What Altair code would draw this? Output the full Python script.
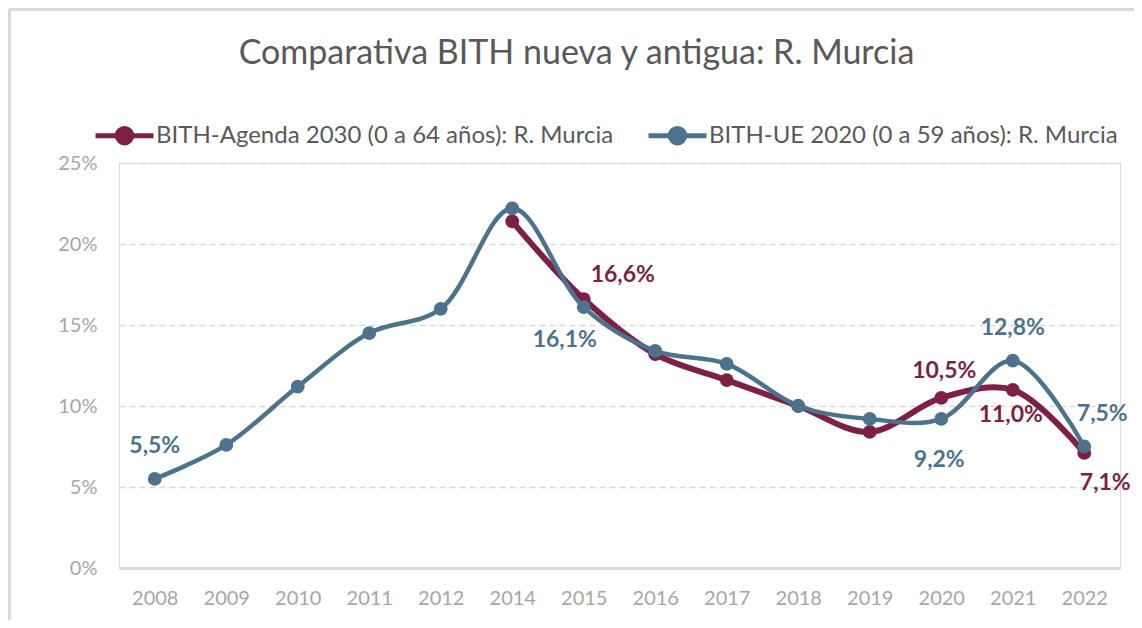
import altair as alt
import pandas as pd

# ---- data ----
years = ["2008", "2009", "2010", "2011", "2012", "2014", "2015",
         "2016", "2017", "2018", "2019", "2020", "2021", "2022"]
series_agenda = "BITH-Agenda 2030 (0 a 64 años): R. Murcia"
series_ue = "BITH-UE 2020 (0 a 59 años): R. Murcia"
agenda_vals = [None, None, None, None, None, 21.4, 16.6, 13.2, 11.6, 10.0, 8.4, 10.5, 11.0, 7.1]
ue_vals = [5.5, 7.6, 11.2, 14.5, 16.0, 22.2, 16.1, 13.4, 12.6, 10.0, 9.2, 9.2, 12.8, 7.5]

# which points carry a data label, and where (relative placement)
agenda_labels = {"2015": "above_right", "2020": "above", "2021": "below", "2022": "below_right"}
ue_labels = {"2008": "above", "2015": "below_left", "2020": "below", "2021": "above", "2022": "above_right"}

rows = []
for y, a, u in zip(years, agenda_vals, ue_vals):
    if a is not None:
        rows.append({"year": y, "series": series_agenda, "value": a / 100,
                     "pos": agenda_labels.get(y, "")})
    rows.append({"year": y, "series": series_ue, "value": u / 100,
                 "pos": ue_labels.get(y, "")})
df = pd.DataFrame(rows)

MAROON = "#7E1F46"
BLUE = "#4C738E"
FONT = "Lato"

color_scale = alt.Scale(domain=[series_agenda, series_ue], range=[MAROON, BLUE])

# legend symbol: line with a circle in the middle
sym_path = ("M-1,0L1,0M0.25,0A0.25,0.25,0,1,1,-0.25,0"
            "A0.25,0.25,0,1,1,0.25,0Z")

x_enc = alt.X("year:O", sort=years,
              scale=alt.Scale(type="point", padding=0.5),
              axis=alt.Axis(title=None, labelAngle=0, ticks=False, tickSize=0,
                            domain=True, domainColor="#D9D9D9", domainWidth=3,
                            labelColor="#A6A6A6", labelFont=FONT, labelFontSize=20,
                            labelPadding=20, grid=False))
y_enc = alt.Y("value:Q", scale=alt.Scale(domain=[0, 0.25], nice=False),
              axis=alt.Axis(title=None, format=".0%", values=[0, 0.05, 0.10, 0.15, 0.20, 0.25],
                            ticks=False, tickSize=0, domain=False,
                            grid=True, gridColor="#D9D9D9", gridDash=[6, 4], gridWidth=1.5,
                            labelColor="#A6A6A6", labelFont=FONT, labelFontSize=20,
                            labelPadding=22))

base = alt.Chart(df).encode(x=x_enc, y=y_enc)

# chart frame (top and left edges of the outer border)
frame_top = alt.Chart(df).mark_rule(stroke="#D9D9D9", strokeWidth=2.5).encode(
    x=alt.value(-110), x2=alt.value(1015), y=alt.value(-154))
frame_left = alt.Chart(df).mark_rule(stroke="#D9D9D9", strokeWidth=2.5).encode(
    x=alt.value(-110), y=alt.value(-154), y2=alt.value(457))

def series_layers(name, width):
    sub = base.transform_filter(alt.datum.series == name)
    line = sub.mark_line(interpolate="catmull-rom", strokeWidth=width).encode(
        color=alt.Color("series:N", scale=color_scale,
                        legend=alt.Legend(title=None, orient="none", direction="horizontal",
                                          legendX=-26, legendY=-59,
                                          symbolType=sym_path, symbolSize=3364,
                                          symbolStrokeWidth=5, symbolOpacity=1,
                                          labelFont=FONT, labelFontSize=24,
                                          labelColor="#595959", labelOffset=0,
                                          columnPadding=24, labelLimit=700))
    )
    pts = sub.mark_circle(size=190, opacity=1).encode(
        color=alt.Color("series:N", scale=color_scale, legend=None))
    return [line, pts]

label_offsets = {
    "above": (0, -33),
    "below": (0, 36),
    "above_right": (24, -29),
    "below_right": (21, 30),
    "below_left": (-19, 33),
}

def label_layers(name, color, adjust):
    out = []
    for pos, (dx, dy) in label_offsets.items():
        ddx, ddy = adjust.get(pos, (0, 0))
        out.append(
            base.transform_filter((alt.datum.series == name) & (alt.datum.pos == pos))
            .transform_calculate(lbl="replace(format(datum.value, '.1%'), '.', ',')")
            .mark_text(font=FONT, fontSize=23, fontWeight="bold", color=color,
                       dx=dx + ddx, dy=dy + ddy)
            .encode(text="lbl:N")
        )
    return out

agenda_adjust = {"above_right": (15, 5), "above": (3, 6), "below": (-2, -11)}
ue_adjust = {"above_right": (-6, -4), "below": (-2, 5), "above": (0, 0)}

layers = ([frame_top, frame_left]
          + series_layers(series_agenda, 6)
          + series_layers(series_ue, 4.5)
          + label_layers(series_agenda, MAROON, agenda_adjust)
          + label_layers(series_ue, BLUE, ue_adjust))

chart = alt.layer(*layers).properties(
    width=1001, height=405,
    title=alt.TitleParams("Comparativa BITH nueva y antigua: R. Murcia",
                          font=FONT, fontSize=34, fontWeight="normal", color="#595959",
                          anchor="middle", dx=-43, offset=-90, baseline="alphabetic"),
    autosize=alt.AutoSizeParams(type="none"),
    padding={"left": 111, "top": 155, "right": 14, "bottom": 52},
).configure_view(stroke=None).configure(background="white")

chart.save("out.html", embed_options={"renderer": "svg", "actions": False})
